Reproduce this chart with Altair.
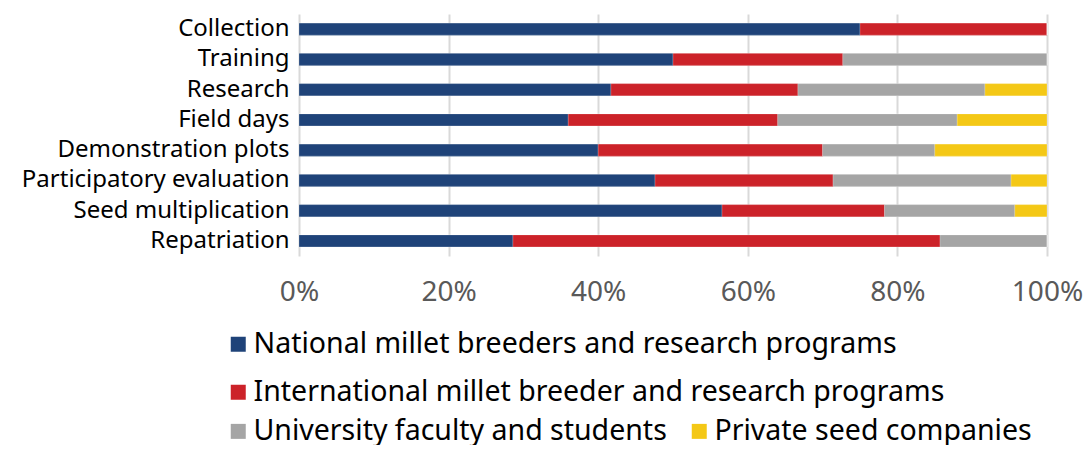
import altair as alt
import pandas as pd

activities = ["Collection", "Training", "Research", "Field days", "Demonstration plots",
              "Participatory evaluation", "Seed multiplication", "Repatriation"]
series = ["National millet breeders and research programs",
          "International millet breeder and research programs",
          "University faculty and students",
          "Private seed companies"]
national = [75.0, 50.0, 41.7, 36.0, 40.0, 47.6, 56.5, 28.6]
international = [25.0, 22.7, 25.0, 28.0, 30.0, 23.8, 21.7, 57.1]
university = [0.0, 27.3, 25.0, 24.0, 15.0, 23.8, 17.4, 14.3]
private = [0.0, 0.0, 8.3, 12.0, 15.0, 4.8, 4.3, 0.0]
colors = ["#1F4379", "#CC2229", "#A5A5A5", "#F4C816"]
tick_values = [0, 0.2, 0.4, 0.6, 0.8, 1.0]

rows = []
for k, (name, vals) in enumerate(zip(series, [national, international, university, private])):
    for a, v in zip(activities, vals):
        rows.append({"activity": a, "series": name, "k": k, "value": v})
df = pd.DataFrame(rows)

FONT = "Noto Sans"

base = alt.Chart(df).mark_bar(size=12, stroke="#FFFFFF", strokeOpacity=0.35, strokeWidth=0.6).encode(
    x=alt.X("value:Q", stack="normalize",
            scale=alt.Scale(domain=[0, 1], nice=False),
            axis=alt.Axis(format="%", values=tick_values, title=None, grid=True,
                          gridColor="#D9D9D9", gridWidth=2, domain=False, ticks=False,
                          labelFont=FONT, labelFontSize=28, labelColor="#595959",
                          labelPadding=22, labelFlush=False)),
    y=alt.Y("activity:N", sort=activities,
            scale=alt.Scale(paddingInner=0.6, paddingOuter=0.3),
            axis=alt.Axis(title=None, domain=False, ticks=False, labelFont=FONT,
                          labelFontSize=24, labelColor="#000000", labelPadding=10,
                          labelLimit=0)),
    order=alt.Order("k:Q"),
)

legend_common = dict(orient="none", title=None, symbolType="square", symbolSize=225,
                     symbolStrokeWidth=0, labelFont=FONT, labelFontSize=28.5,
                     labelColor="#000000", labelLimit=0, labelOffset=1)

layer_a = base.encode(
    color=alt.Color("series:N", sort=series,
                    scale=alt.Scale(domain=series, range=colors),
                    legend=alt.Legend(values=series[:2], columns=1, rowPadding=19,
                                      legendX=-75, legendY=316, **legend_common)))
layer_b = base.encode(
    color=alt.Color("series:N", sort=series,
                    scale=alt.Scale(domain=series, range=colors),
                    legend=alt.Legend(values=series[2:], columns=2, direction="horizontal",
                                      columnPadding=18,
                                      legendX=-75, legendY=403, **legend_common)))

chart = alt.layer(layer_a, layer_b).resolve_scale(color="independent").resolve_legend(
    color="independent"
).properties(
    width=748, height=242,
    padding={"left": 291, "top": 6, "right": 36, "bottom": 189},
    autosize=alt.AutoSizeParams(type="none"),
).configure_view(stroke=None)

chart.save("out.html", embed_options={"renderer": "svg", "actions": False})
